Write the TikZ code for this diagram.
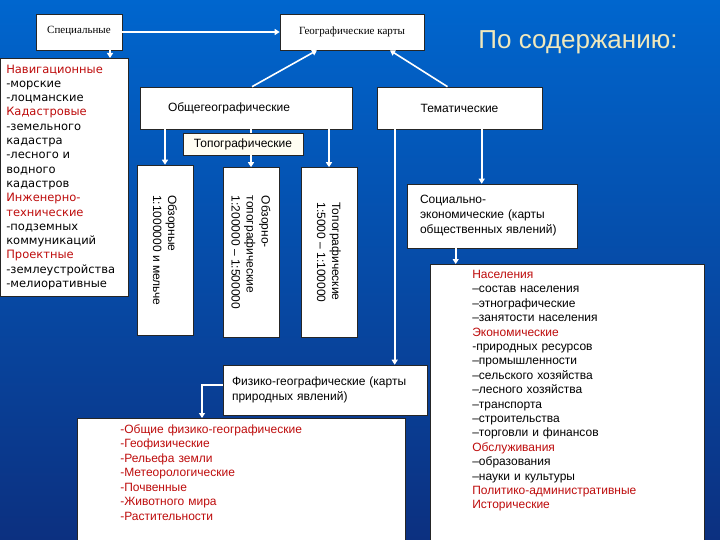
\documentclass[tikz,border=0pt]{standalone}
\usepackage{fontspec}
\setmainfont{Liberation Sans}
\newfontfamily\timesfont{Liberation Serif}
\newfontfamily\verdfont{DejaVu Sans}
\usepackage{tikz}
\usetikzlibrary{arrows.meta}
\usetikzlibrary{calc}
\usetikzlibrary{positioning}
\definecolor{bgtop}{RGB}{0,102,206}
\definecolor{bgbot}{RGB}{12,48,128}
\definecolor{headred}{RGB}{190,12,12}
\definecolor{titlecol}{RGB}{240,232,188}
\definecolor{cream}{RGB}{255,253,242}

\begin{document}
\begin{tikzpicture}[x=1pt, y=-1pt,
            box/.style={draw=black!85, fill=white, line width=0.6pt, inner sep=0pt,
                        font=\fontsize{12}{15}\selectfont},
            vbox/.style={box, rotate=-90, minimum width=170pt, minimum height=56pt, align=left},
            serifbox/.style={box, minimum height=36pt, font=\timesfont\fontsize{11}{13}\selectfont},
            arr/.style={draw=white, line width=1.6pt, -{Triangle[length=5pt, width=6pt]}},
            ln/.style={draw=white, line width=1.6pt}]
            \useasboundingbox (0,0) rectangle (720,540);
            \fill[top color=bgtop, bottom color=bgbot] (0,0) rectangle (720,540);

            \draw (79,32) node[serifbox, minimum width=86pt]                    (spec) {\raisebox{5pt}{Специальные}};
            \draw (352,32) node[serifbox, minimum width=144pt]                  (geo) {Географические карты};
            \draw (578,42) node[text=titlecol, font=\fontsize{26}{30}\selectfont] (title) {По содержанию:};

            \draw (0,58) node[box, anchor=north west, minimum height=238pt, text width=116pt, inner xsep=6pt,
                              align=left, font=\verdfont\fontsize{11.5}{14.3}\selectfont] (speclist)
                  {{\color{headred}Навигационные}\\-морские\\-лоцманские\\{\color{headred}Кадастровые}\\-земельного\\кадастра\\-лесного и\\водного\\кадастров\\{\color{headred}Инженерно-}\\{\color{headred}технические}\\-подземных\\коммуникаций\\{\color{headred}Проектные}\\-землеустройства\\-мелиоративные};

            \draw (246,108) node[box, minimum width=212pt, minimum height=42pt, text width=156pt,
                                 inner xsep=28pt, align=left]         (general) {Общегеографические};
            \draw (459.5,108) node[box, minimum width=165pt, minimum height=42pt] (thematic) {Тематические};
            \draw (243,144) node[box, fill=cream, minimum width=120pt, minimum height=22pt] (topo) {Топографические};

            \draw (165,250) node[vbox]   (survey) {Обзорные\\1:1000000 и мельче};
            \draw (251,252.5) node[vbox] (surveytopo) {Обзорно-\\топографические\\1:200000 – 1:500000};
            \draw (329,252.5) node[vbox] (topomaps) {Топографические\\1:5000 – 1:100000};

            \draw (492,216) node[box, minimum width=170pt, minimum height=64pt, text width=144pt,
                                 inner xsep=13pt, align=left]         (social) {Социально-\\экономические (карты\\общественных явлений)};
            \draw (325,390) node[box, minimum width=204pt, minimum height=50pt, text width=186pt,
                                 inner xsep=9pt, align=left]          (physical) {Физико-географические (карты\\природных явлений)};

            \draw (77,418) node[box, anchor=north west, text width=242pt, inner xsep=43pt, inner ysep=6pt,
                                align=left, text=headred, font=\fontsize{12}{14.5}\selectfont] (physlist)
                  {-Общие физико-географические\\-Геофизические\\-Рельефа земли\\-Метеорологические\\-Почвенные\\-Животного мира\\-Растительности\\[40pt]\mbox{}};

            \draw (430,264) node[box, anchor=north west, text width=190pt, inner xsep=42pt, inner ysep=6pt,
                                 align=left, font=\fontsize{12}{14.4}\selectfont] (sociallist)
                  {{\color{headred}Населения}\\–состав населения\\–этнографические\\–занятости населения\\{\color{headred}Экономические}\\-природных ресурсов\\–промышленности\\–сельского хозяйства\\–лесного хозяйства\\–транспорта\\–строительства\\–торговли и финансов\\{\color{headred}Обслуживания}\\–образования\\–науки и культуры\\{\color{headred}Политико-административные}\\{\color{headred}Исторические}\\[40pt]\mbox{}};

            \coordinate (s1) at ([xshift=31pt]spec.south);
            \coordinate (t1) at ([xshift=18pt]thematic.south west);
            \coordinate (t2) at ([xshift=105pt]thematic.south west);
            \coordinate (s2) at ([xshift=49pt]social.south west);
            \coordinate (p1) at ([yshift=5pt]physical.west);
            \coordinate (p2) at ([xshift=125pt]physlist.north west);

            \draw[arr] (spec.east) -- (geo.west);
            \draw[arr] (s1) -- (s1 |- speclist.north);
            \draw[arr] ([xshift=6pt]general.north) -- ([xshift=-35pt]geo.south);
            \draw[arr] ([xshift=-12pt]thematic.north) -- ([xshift=38pt]geo.south);
            \draw[arr] (general.south -| survey.center) -- (survey.west);
            \draw[ln] (general.south -| surveytopo.center) -- (topo.north -| surveytopo.center);
            \draw[arr] (topo.south -| surveytopo.center) -- (surveytopo.west);
            \draw[arr] (general.south -| topomaps.center) -- (topomaps.west);
            \draw[arr] (t1) -- (t1 |- physical.north);
            \draw[arr] (t2) -- (t2 |- social.north);
            \draw[arr] (s2) -- (s2 |- sociallist.north);
            \draw[arr] (p1) -| (p2);

            \end{tikzpicture}
\end{document}
